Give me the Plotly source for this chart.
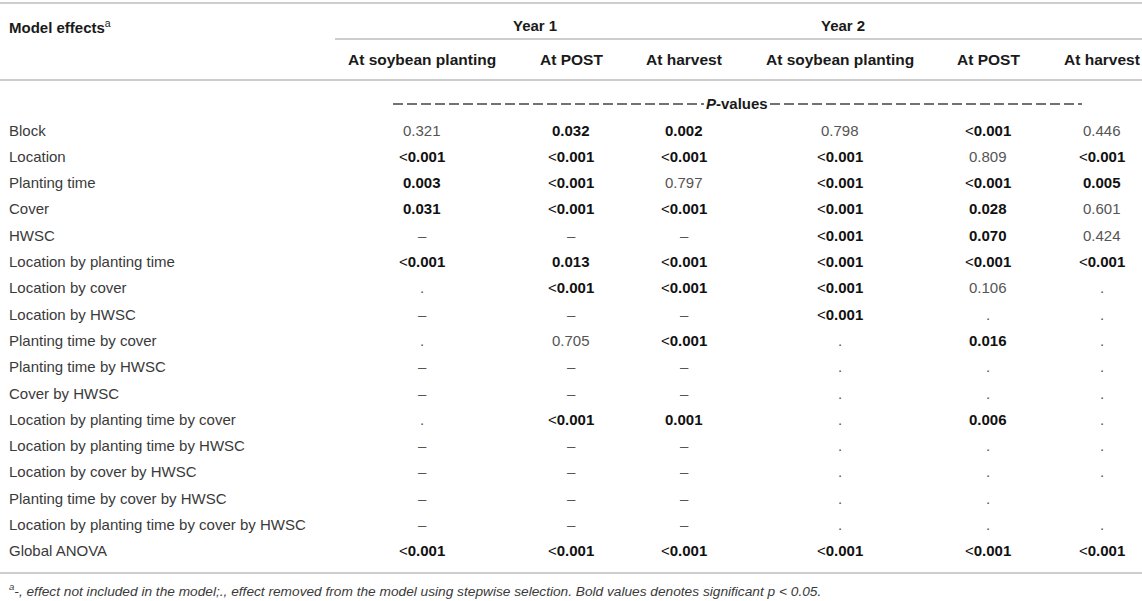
import plotly.graph_objects as go

# --- table content ---
model_effects = [
    "Block",
    "Location",
    "Planting time",
    "Cover",
    "HWSC",
    "Location by planting time",
    "Location by cover",
    "Location by HWSC",
    "Planting time by cover",
    "Planting time by HWSC",
    "Cover by HWSC",
    "Location by planting time by cover",
    "Location by planting time by HWSC",
    "Location by cover by HWSC",
    "Planting time by cover by HWSC",
    "Location by planting time by cover by HWSC",
    "Global ANOVA",
]

years = ["Year 1", "Year 2"]
stages = ["At soybean planting", "At POST", "At harvest"]

# p-values per column (year 1 then year 2); "–" not in model, "." removed, "" blank
y1_planting = ["0.321", "<0.001", "0.003", "0.031", "–", "<0.001", ".", "–", ".", "–", "–", ".", "–", "–", "–", "–", "<0.001"]
y1_post = ["0.032", "<0.001", "<0.001", "<0.001", "–", "0.013", "<0.001", "–", "0.705", "–", "–", "<0.001", "–", "–", "–", "–", "<0.001"]
y1_harvest = ["0.002", "<0.001", "0.797", "<0.001", "–", "<0.001", "<0.001", "–", "<0.001", "–", "–", "0.001", "–", "–", "–", "–", "<0.001"]
y2_planting = ["0.798", "<0.001", "<0.001", "<0.001", "<0.001", "<0.001", "<0.001", "<0.001", ".", ".", ".", ".", ".", ".", ".", ".", "<0.001"]
y2_post = ["<0.001", "0.809", "<0.001", "0.028", "0.070", "<0.001", "0.106", ".", "0.016", ".", ".", "0.006", ".", ".", ".", ".", "<0.001"]
y2_harvest = ["0.446", "<0.001", "0.005", "0.601", "0.424", "<0.001", ".", ".", ".", ".", ".", ".", ".", ".", "", ".", "<0.001"]

# bold = shown as significant in the source table
y1_planting_bold = [0, 1, 1, 1, 0, 1, 0, 0, 0, 0, 0, 0, 0, 0, 0, 0, 1]
y1_post_bold = [1, 1, 1, 1, 0, 1, 1, 0, 0, 0, 0, 1, 0, 0, 0, 0, 1]
y1_harvest_bold = [1, 1, 0, 1, 0, 1, 1, 0, 1, 0, 0, 1, 0, 0, 0, 0, 1]
y2_planting_bold = [0, 1, 1, 1, 1, 1, 1, 1, 0, 0, 0, 0, 0, 0, 0, 0, 1]
y2_post_bold = [1, 0, 1, 1, 1, 1, 0, 0, 1, 0, 0, 1, 0, 0, 0, 0, 1]
y2_harvest_bold = [0, 1, 1, 0, 0, 1, 0, 0, 0, 0, 0, 0, 0, 0, 0, 0, 1]

footnote = ("<sup>a</sup>-, effect not included in the model;., effect removed from the model "
            "using stepwise selection. Bold values denotes significant <i>p</i> &lt; 0.05.")

columns = [y1_planting, y1_post, y1_harvest, y2_planting, y2_post, y2_harvest]
bolds = [y1_planting_bold, y1_post_bold, y1_harvest_bold,
         y2_planting_bold, y2_post_bold, y2_harvest_bold]

# --- layout (page pixels) ---
W, H = 1142, 601
FONT = "Liberation Sans"
col_x = [422, 571, 684, 840, 988, 1102]
year_x = [535, 843]
label_x = 7
row0_y, row_h = 130, 26.3
line_col = "#bdbdbd"
txt_col = "#3a3a3a"
head_col = "#1a1a1a"


def fmt(v, b):
    v_html = v.replace("<", "&lt;")
    if not b:
        return v_html
    if v.startswith("<"):
        return "&lt;<b>" + v[1:] + "</b>"
    return "<b>" + v_html + "</b>"


fig = go.Figure()
ann = []
shapes = []

# header
ann.append(dict(x=label_x, y=26, text="<b>Model effects</b><sup>a</sup>", xanchor="left",
                font=dict(size=15, color=head_col)))
for yx, yr in zip(year_x, years):
    ann.append(dict(x=yx, y=25, text="<b>" + yr + "</b>", font=dict(size=15, color=head_col)))
for i, cx in enumerate(col_x):
    ann.append(dict(x=cx, y=59, text="<b>" + stages[i % 3] + "</b>", font=dict(size=15.5, color=head_col)))

# P-values divider
ann.append(dict(x=737, y=103, text="<b><i>P</i>-values</b>", font=dict(size=15, color=head_col)))
for x0, x1 in [(393, 704), (770, 1082)]:
    shapes.append(dict(type="line", x0=x0, x1=x1, y0=104, y1=104,
                       line=dict(color="#444444", width=1.3, dash="10px,4px")))

# body
for r, name in enumerate(model_effects):
    y = row0_y + r * row_h
    ann.append(dict(x=label_x, y=y, text=name, xanchor="left", font=dict(size=15, color=txt_col)))
    for c, cx in enumerate(col_x):
        v = columns[c][r]
        if v == "":
            continue
        b = bolds[c][r]
        ann.append(dict(x=cx, y=y, text=fmt(v, b),
                        font=dict(size=15, color="#111111" if b else "#555555")))

# rules
for x0, y0 in [(0, 3), (335, 39), (0, 80), (0, 573)]:
    shapes.append(dict(type="line", x0=x0, x1=W, y0=y0, y1=y0,
                       line=dict(color=line_col, width=1.6)))

ann.append(dict(x=label_x, y=590, text="<i>" + footnote + "</i>", xanchor="left",
                font=dict(size=13.7, color=txt_col)))

for a in ann:
    a.setdefault("xanchor", "center")
    a["yanchor"] = "middle"
    a["showarrow"] = False
    a["xref"] = "x"
    a["yref"] = "y"
    a["font"]["family"] = FONT

fig.update_layout(
    width=W,
    height=H,
    margin=dict(l=0, r=0, t=0, b=0),
    paper_bgcolor="white",
    plot_bgcolor="white",
    annotations=ann,
    shapes=shapes,
    xaxis=dict(range=[0, W], visible=False, fixedrange=True),
    yaxis=dict(range=[H, 0], visible=False, fixedrange=True),
    showlegend=False,
)

# drop the default page margin so the figure fills the window
fig.write_html("out.html", config={"displayModeBar": False},
               post_script="document.body.style.margin='0';document.body.style.overflow='hidden';")
